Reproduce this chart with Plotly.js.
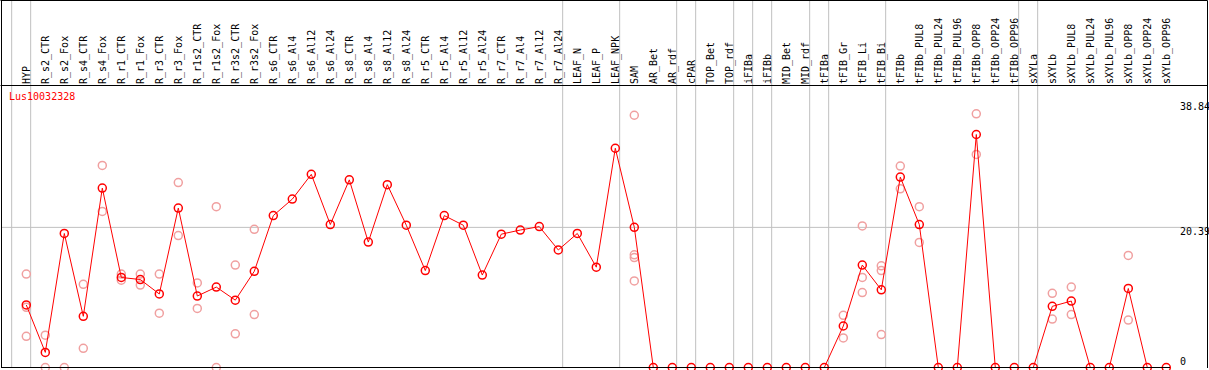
<!DOCTYPE html>
<html>
<head>
<meta charset="utf-8">
<script src="https://cdn.plot.ly/plotly-3.0.1.min.js"></script>
<style>html,body{margin:0;padding:0;background:#fff;}#chart{width:1209px;height:370px;}</style>
</head>
<body>
<div id="chart"></div>
<script>
var categories = ['HYP','R_s2_CTR','R_s2_Fox','R_s4_CTR','R_s4_Fox','R_r1_CTR','R_r1_Fox','R_r3_CTR','R_r3_Fox',
  'R_r1s2_CTR','R_r1s2_Fox','R_r3s2_CTR','R_r3s2_Fox','R_s6_CTR','R_s6_Al4','R_s6_Al12','R_s6_Al24',
  'R_s8_CTR','R_s8_Al4','R_s8_Al12','R_s8_Al24','R_r5_CTR','R_r5_Al4','R_r5_Al12','R_r5_Al24',
  'R_r7_CTR','R_r7_Al4','R_r7_Al12','R_r7_Al24','LEAF_N','LEAF_P','LEAF_NPK','SAM','AR_Bet','AR_rdf',
  'cPAR','TOP_Bet','TOP_rdf','iFIBa','iFIBb','MID_Bet','MID_rdf','tFIBa','tFIB_Gr','tFIB_Li','tFIB_Bi',
  'tFIBb','tFIBb_PUL8','tFIBb_PUL24','tFIBb_PUL96','tFIBb_OPP8','tFIBb_OPP24','tFIBb_OPP96',
  'sXYLa','sXYLb','sXYLb_PUL8','sXYLb_PUL24','sXYLb_PUL96','sXYLb_OPP8','sXYLb_OPP24','sXYLb_OPP96'];

var meanValues = [9.1,2.2,19.5,7.45,26.1,13.1,12.8,10.7,23.2,10.4,11.7,9.8,14.0,22.1,24.5,28.1,20.8,
  27.3,18.25,26.6,20.7,14.1,22.1,20.7,13.45,19.4,20.0,20.5,17.1,19.5,14.6,31.9,20.4,0,0,
  0,0,0,0,0,0,0,0,6.04,14.9,11.3,
  27.7,20.8,0,0,33.9,0,0,
  0,8.9,9.67,0,0,11.5,0,0];

var replicateValues = [[13.6,8.75,4.54],[4.7,0.0],[0.0],[12.1,2.8],[29.4,22.7],[13.6,12.7],[13.6,12.0],[13.6,7.9],[26.9,19.2],
  [12.3,8.6],[23.4,0.0],[14.9,4.9],[20.1,7.7],[],[],[],[],
  [],[],[],[],[],[],[],[],
  [],[],[],[],[],[],[],[36.7,16.4,16.0,12.6],[],[],
  [],[],[],[],[],[],[],[],[7.6,4.3],[20.6,13.1,10.9],[14.8,14.1,4.8],
  [29.3,26.0],[23.4,18.2],[],[],[36.9,31.0],[],[],
  [],[10.8,7.05],[11.7,7.7],[],[],[16.3,6.9],[],[]];

var groupEnds = ['HYP','R_r7_Al24','LEAF_NPK','AR_rdf','cPAR','TOP_rdf','iFIBa','iFIBb','MID_rdf','tFIBa',
  'tFIB_Bi','tFIBb_OPP96','sXYLa','sXYLb_OPP96'];

var axisLabels = [0, 20.39, 38.84];
var geneName = 'Lus10032328';

var repX = [], repY = [];
replicateValues.forEach(function(arr, i){ arr.forEach(function(v){ repX.push(categories[i]); repY.push(v); }); });

var mono = 'DejaVu Sans Mono, monospace';
var W = 1209, H = 370, mL = 1, mR = 39, mT = 85, mB = 2;
var plotH = H - mT - mB, plotW = W - mL - mR;
var topPaper = 1 + (mT - 0.5) / plotH;
var rightPaper = (W - 1.5 - mL) / plotW;

var shapes = [];
var sepPositions = [-1].concat(groupEnds.map(function(c){ return categories.indexOf(c); }));
sepPositions.forEach(function(p){
  shapes.push({type:'line', xref:'x', yref:'paper', x0:p+0.23, x1:p+0.23, y0:0, y1:topPaper,
    line:{color:'#c0c0c0', width:1}, layer:'below'});
});
shapes.push({type:'line', xref:'paper', yref:'y', x0:0, x1:rightPaper, y0:axisLabels[1], y1:axisLabels[1],
  line:{color:'#c0c0c0', width:1}, layer:'below'});
// frame lines
shapes.push({type:'line', xref:'paper', yref:'paper', x0:-0.5/plotW, x1:rightPaper, y0:topPaper, y1:topPaper, line:{color:'#000', width:1}});
shapes.push({type:'line', xref:'paper', yref:'paper', x0:-0.5/plotW, x1:rightPaper, y0:1-0.5/plotH, y1:1-0.5/plotH, line:{color:'#000', width:1}});
shapes.push({type:'line', xref:'paper', yref:'paper', x0:0.5/plotW, x1:0.5/plotW, y0:0, y1:topPaper, line:{color:'#000', width:1}});
shapes.push({type:'line', xref:'paper', yref:'paper', x0:rightPaper, x1:rightPaper, y0:0, y1:topPaper, line:{color:'#000', width:1}});
shapes.push({type:'line', xref:'paper', yref:'paper', x0:0, x1:1, y0:0.5/plotH, y1:0.5/plotH, line:{color:'#000', width:1}});

var labelShift = [6.5, -3.7, -5.6];
var annotations = axisLabels.map(function(v, i){
  return {xref:'paper', yref:'y', x:(1179 - mL)/plotW, y:v, xanchor:'left', yanchor:'middle', yshift:labelShift[i],
    text:String(v), showarrow:false, font:{family:mono, size:10, color:'#000'}, borderpad:0};
});
annotations.push({xref:'paper', yref:'paper', x:(8 - mL)/plotW, y:(H - mB - 97)/plotH, xanchor:'left', yanchor:'middle',
  text:geneName, showarrow:false, font:{family:mono, size:10, color:'#ff0000'}, borderpad:0});

var traces = [
  {x:repX, y:repY, type:'scatter', mode:'markers', cliponaxis:false, hoverinfo:'skip',
   marker:{symbol:'circle-open', size:8, color:'#f0a0a0', line:{width:1.5, color:'#f0a0a0'}}},
  {x:categories, y:meanValues, type:'scatter', mode:'lines+markers', cliponaxis:false,
   line:{color:'#ff0000', width:1},
   marker:{symbol:'circle-open', size:8, color:'#ff0000', line:{width:1.5, color:'#ff0000'}}}
];

var layout = {
  width:W, height:H, margin:{l:mL, r:mR, t:mT, b:mB, pad:0},
  paper_bgcolor:'#fff', plot_bgcolor:'#fff', showlegend:false,
  xaxis:{type:'category', categoryorder:'array', categoryarray:categories,
    range:[(1 - 26.3)/19, (1170 - 26.3)/19], side:'top', tickangle:-90, ticks:'', showgrid:false,
    showline:false, zeroline:false, tickfont:{family:mono, size:10, color:'#000'}, fixedrange:true},
  yaxis:{range:[-0.07, 41.1], showgrid:false, showticklabels:false, zeroline:false, showline:false, fixedrange:true},
  shapes:shapes, annotations:annotations
};

Plotly.newPlot('chart', traces, layout, {staticPlot:true, displayModeBar:false});
</script>
</body>
</html>
